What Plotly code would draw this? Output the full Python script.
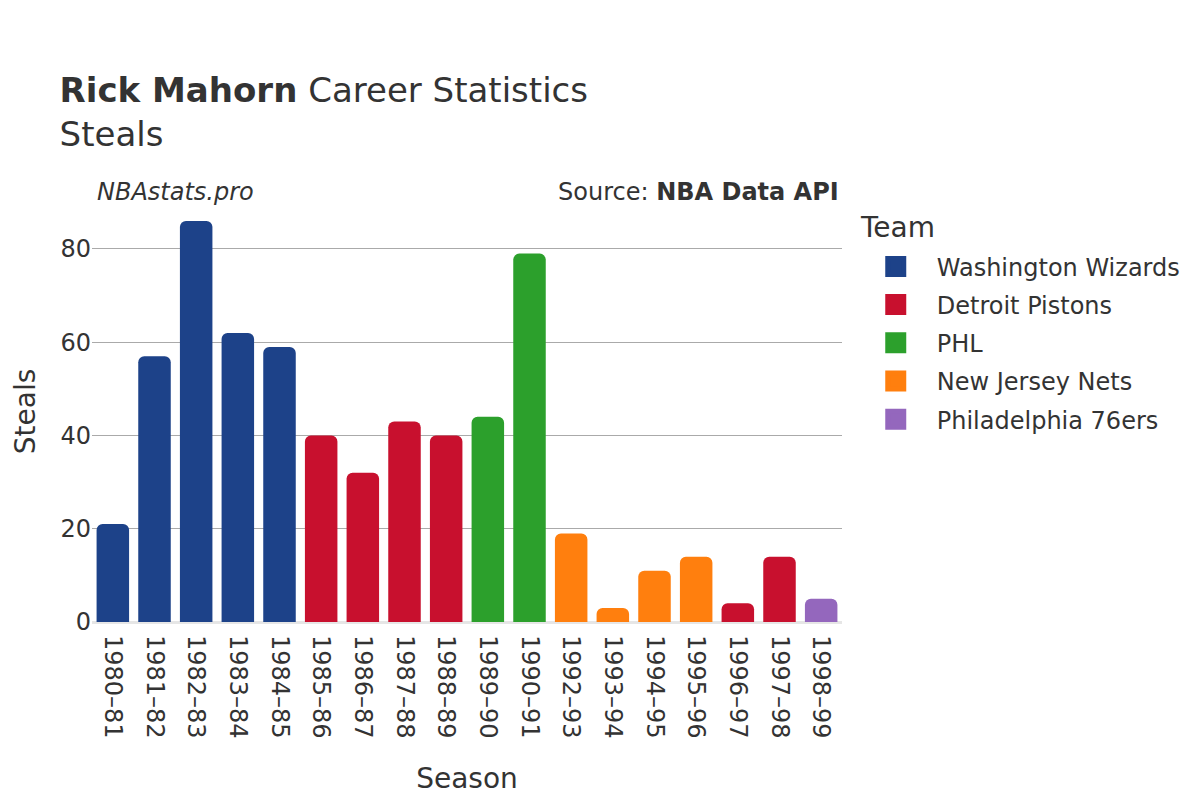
import plotly.graph_objects as go

seasons = ["1980–81", "1981–82", "1982–83", "1983–84", "1984–85", "1985–86", "1986–87",
           "1987–88", "1988–89", "1989–90", "1990–91", "1992–93", "1993–94", "1994–95",
           "1995–96", "1996–97", "1997–98", "1998–99"]
teams = ["Washington Wizards", "Washington Wizards", "Washington Wizards", "Washington Wizards",
         "Washington Wizards", "Detroit Pistons", "Detroit Pistons", "Detroit Pistons",
         "Detroit Pistons", "PHL", "PHL", "New Jersey Nets", "New Jersey Nets",
         "New Jersey Nets", "New Jersey Nets", "Detroit Pistons", "Detroit Pistons",
         "Philadelphia 76ers"]
steals = [21, 57, 86, 62, 59, 40, 32, 43, 40, 44, 79, 19, 3, 11, 14, 4, 14, 5]

team_order = ["Washington Wizards", "Detroit Pistons", "PHL", "New Jersey Nets", "Philadelphia 76ers"]
team_colors = {"Washington Wizards": "#1d4289", "Detroit Pistons": "#c8102e", "PHL": "#2ca02c",
               "New Jersey Nets": "#ff7f0e", "Philadelphia 76ers": "#9467bd"}

fig = go.Figure()
for t in team_order:
    xs = [s for s, tt in zip(seasons, teams) if tt == t]
    ys = [v for v, tt in zip(steals, teams) if tt == t]
    fig.add_trace(go.Bar(x=xs, y=ys, name=t, legendgroup=t, showlegend=False,
                         marker=dict(color=team_colors[t], cornerradius=6, line=dict(width=0))))
    # legend-only entry (no data) so the legend swatch can be drawn larger
    fig.add_trace(go.Scatter(x=[None], y=[None], name=t, legendgroup=t, showlegend=True,
                             mode="markers", hoverinfo="skip",
                             marker=dict(symbol="square", size=16, color=team_colors[t],
                                         line=dict(width=5, color=team_colors[t]))))

font = "DejaVu Sans, sans-serif"
fig.update_layout(
    width=1200, height=800,
    barmode="overlay",
    bargap=0.22,
    plot_bgcolor="white", paper_bgcolor="white",
    font=dict(family=font, color="#333333", size=24),
    title=dict(text="<b>Rick Mahorn</b> Career Statistics<br>Steals", x=0.043, xanchor="left",
               y=0.8825, yanchor="top", font=dict(size=34, color="#333333")),
    margin=dict(l=84, r=366, t=192, b=186),
    legend=dict(x=1.017, y=0.895, xanchor="left", yanchor="top",
                font=dict(size=24), itemwidth=72, traceorder="grouped", tracegroupgap=4),
    xaxis=dict(title=dict(text="Season", font=dict(size=28), standoff=30), tickangle=90, categoryorder="array",
               categoryarray=seasons, tickfont=dict(size=24), showgrid=False, ticklabelstandoff=12,
               automargin=False, range=[-0.5, 17.5]),
    yaxis=dict(gridcolor="#aaaaaa", gridwidth=1,
               zeroline=True, zerolinecolor="#e6e6e6", zerolinewidth=3, tickfont=dict(size=24),
               range=[0, 90.5], dtick=20, automargin=False),
    annotations=[
        dict(text="Steals", xref="paper", yref="paper", x=-0.089, y=0.5, textangle=-90,
             xanchor="center", yanchor="middle", showarrow=False, font=dict(size=28, color="#333333")),
        dict(text="Team", xref="paper", yref="paper", x=1.021, y=0.936,
             xanchor="left", yanchor="middle", showarrow=False, font=dict(size=28, color="#333333")),
        dict(text="<i>NBAstats.pro</i>", xref="paper", yref="paper", x=0.004, y=0.98,
             xanchor="left", yanchor="bottom", showarrow=False, font=dict(size=24, color="#333333")),
        dict(text="Source: <b>NBA Data API</b>", xref="paper", yref="paper", x=0.998, y=0.98,
             xanchor="right", yanchor="bottom", showarrow=False, font=dict(size=24, color="#333333")),
    ],
)
fig.write_html("out.html")
